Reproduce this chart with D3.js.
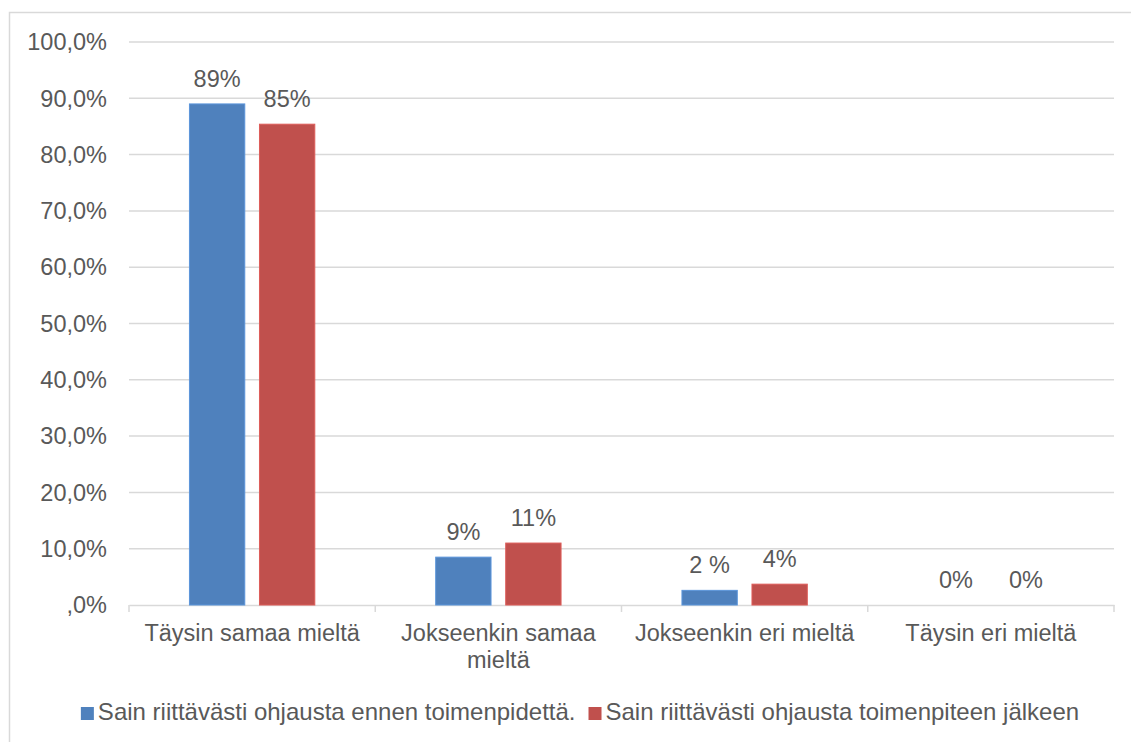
<!DOCTYPE html>
<html>
<head>
<meta charset="utf-8">
<script src="https://cdn.jsdelivr.net/npm/d3@7"></script>
<style>
  body { margin: 0; background: #fff; }
  svg { display: block; font-family: "Liberation Sans", Arial, sans-serif; }
</style>
</head>
<body>
<div id="chart"></div>
<script>
// categories and series
const categories = ["Täysin samaa mieltä", "Jokseenkin samaa mieltä", "Jokseenkin eri mieltä", "Täysin eri mieltä"];
const seriesNames = ["Sain riittävästi ohjausta ennen toimenpidettä.", "Sain riittävästi ohjausta toimenpiteen jälkeen"];
const beforeValues = [89.0, 8.5, 2.6, 0];
const afterValues = [85.4, 11.0, 3.7, 0];
const beforeLabels = ["89%", "9%", "2 %", "0%"];
const afterLabels = ["85%", "11%", "4%", "0%"];
const yTicks = [0, 10, 20, 30, 40, 50, 60, 70, 80, 90, 100];
const yTickLabels = [",0%", "10,0%", "20,0%", "30,0%", "40,0%", "50,0%", "60,0%", "70,0%", "80,0%", "90,0%", "100,0%"];
const colors = ["#4f81bd", "#c0504d"];

const W = 1131, H = 742;
const plot = {left: 129, right: 1114, top: 42, bottom: 605};
const textColor = "#595959", gridColor = "#d9d9d9";
const fontSize = "23.5px";

const svg = d3.select("#chart").append("svg")
  .attr("width", W)
  .attr("height", H);

// outer chart border
svg.append("rect")
  .attr("x", 9.5).attr("y", 12.5)
  .attr("width", W + 20).attr("height", H + 20)
  .attr("fill", "none")
  .attr("stroke", gridColor)
  .attr("stroke-width", 1.5);

const x0 = d3.scaleBand()
  .domain(categories)
  .range([plot.left, plot.right])
  .padding(0);

const groupW = x0.bandwidth() * 0.509;
const x1 = d3.scaleBand()
  .domain([0, 1])
  .range([0, groupW])
  .paddingInner(0.21);

const y = d3.scaleLinear()
  .domain([0, 100])
  .range([plot.bottom, plot.top]);

// gridlines
svg.append("g")
  .selectAll("line")
  .data(yTicks.slice(1))
  .enter().append("line")
  .attr("x1", plot.left).attr("x2", plot.right)
  .attr("y1", d => y(d)).attr("y2", d => y(d))
  .attr("stroke", gridColor)
  .attr("stroke-width", 1.5);

// y tick labels
svg.append("g")
  .selectAll("text")
  .data(yTicks)
  .enter().append("text")
  .attr("x", 107)
  .attr("y", d => y(d))
  .attr("dy", "0.35em")
  .attr("text-anchor", "end")
  .attr("fill", textColor)
  .style("font-size", fontSize)
  .text((d, i) => yTickLabels[i]);

// x axis
const xAxis = d3.axisBottom(x0).tickSize(0).tickSizeOuter(0);
const axisG = svg.append("g")
  .attr("transform", `translate(0,${plot.bottom})`)
  .call(xAxis);
axisG.select(".domain").attr("stroke", gridColor).attr("stroke-width", 1.5);
axisG.selectAll(".tick text")
  .attr("fill", textColor)
  .style("font-size", fontSize)
  .style("font-family", '"Liberation Sans", Arial, sans-serif')
  .attr("y", 36)
  .attr("dy", 0)
  .call(wrap, 232);

// category separators
const bounds = categories.map(c => x0(c)).concat([plot.right]);
svg.append("g")
  .selectAll("line")
  .data(bounds)
  .enter().append("line")
  .attr("x1", d => d).attr("x2", d => d)
  .attr("y1", plot.bottom).attr("y2", plot.bottom + 7)
  .attr("stroke", gridColor)
  .attr("stroke-width", 1.5);

// bars
const seriesVals = [beforeValues, afterValues];
const seriesLabels = [beforeLabels, afterLabels];
seriesVals.forEach((vals, s) => {
  const off = (x0.bandwidth() - groupW) / 2;
  svg.append("g")
    .selectAll("rect")
    .data(vals)
    .enter().append("rect")
    .attr("x", (d, i) => x0(categories[i]) + off + x1(s))
    .attr("y", d => y(d))
    .attr("width", x1.bandwidth())
    .attr("height", d => plot.bottom - y(d))
    .attr("fill", colors[s])
    .attr("stroke", d => d > 0 ? d3.color(colors[s]).brighter(0.4) : "none")
    .attr("stroke-width", 1);

  svg.append("g")
    .selectAll("text")
    .data(vals)
    .enter().append("text")
    .attr("x", (d, i) => x0(categories[i]) + off + x1(s) + x1.bandwidth() / 2)
    .attr("y", d => y(d) - 17)
    .attr("text-anchor", "middle")
    .attr("fill", textColor)
    .style("font-size", fontSize)
    .text((d, i) => seriesLabels[s][i]);
});

// legend
const legend = svg.append("g");
const items = legend.selectAll("g")
  .data(seriesNames)
  .enter().append("g");
items.append("rect")
  .attr("width", 13).attr("height", 13)
  .attr("y", -13)
  .attr("fill", (d, i) => colors[i]);
items.append("text")
  .attr("x", 17)
  .attr("fill", textColor)
  .style("font-size", "24px")
  .text(d => d);
let lx = 0;
const legendPos = [];
items.each(function() {
  legendPos.push(lx);
  lx += this.getBBox().width + 13;
});
const totalW = lx - 13;
const startX = 580 - totalW / 2;
items.attr("transform", (d, i) => `translate(${startX + legendPos[i]},720)`);

function wrap(text, width) {
  text.each(function() {
    const t = d3.select(this),
      words = t.text().split(/\s+/).reverse(),
      yy = t.attr("y");
    let word, line = [], n = 0;
    let tspan = t.text(null).append("tspan").attr("x", 0).attr("y", yy).attr("dy", "0em");
    while (word = words.pop()) {
      line.push(word);
      tspan.text(line.join(" "));
      if (tspan.node().getComputedTextLength() > width) {
        line.pop();
        tspan.text(line.join(" "));
        line = [word];
        tspan = t.append("tspan").attr("x", 0).attr("y", yy).attr("dy", `${++n * 27}px`).text(word);
      }
    }
  });
}
</script>
</body>
</html>
